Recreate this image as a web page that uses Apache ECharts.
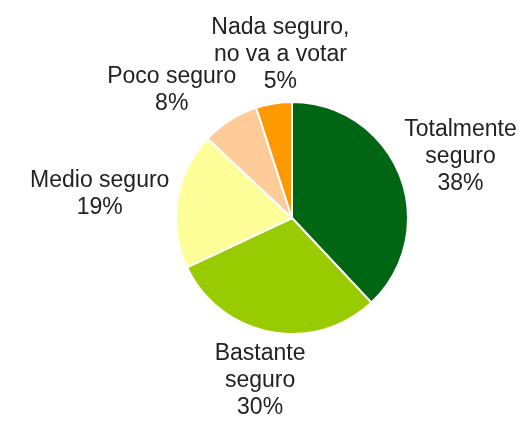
<!DOCTYPE html>
<html>
<head>
<meta charset="utf-8">
<script src="https://cdn.jsdelivr.net/npm/echarts@6/dist/echarts.min.js"></script>
<style>
  html, body { margin: 0; padding: 0; background: #fff; }
  #chart { width: 525px; height: 427px; }
</style>
</head>
<body>
<div id="chart"></div>
<script>
const categories = ['Totalmente\nseguro', 'Bastante\nseguro', 'Medio seguro', 'Poco seguro', 'Nada seguro,\nno va a votar'];
const values = [38, 30, 19, 8, 5];
const colors = ['#006613', '#99cc00', '#ffff99', '#ffcc99', '#ff9900'];

const center = [292, 218];
const radius = 116;
const gap = 9;           // space between pie edge and label box
const fontSize = 23;
const lineHeight = 27;
const fontFamily = 'Liberation Sans, Arial, sans-serif';

// measure label boxes so they can be placed outside the slices
const ctx = document.createElement('canvas').getContext('2d');
ctx.font = fontSize + 'px ' + fontFamily;
const labelText = categories.map((c, i) => c + '\n' + values[i] + '%');
const boxes = labelText.map(t => {
  const lines = t.split('\n');
  return {
    w: Math.max(...lines.map(l => ctx.measureText(l).width)),
    h: lines.length * lineHeight
  };
});

// label centres along the mid angle of each slice (clockwise from 12 o'clock);
// the box edge, not its centre, sits at radius + gap
const total = values.reduce((a, b) => a + b, 0);
let acc = 0;
const spots = values.map((v, i) => {
  const a = (acc + v / 2) / total * 2 * Math.PI;
  acc += v;
  const dx = Math.sin(a), dy = -Math.cos(a);
  return {
    x: center[0] + dx * (radius + gap) + dx * boxes[i].w / 2,
    y: center[1] + dy * (radius + gap) + dy * boxes[i].h / 2
  };
});
// push neighbouring labels apart sideways when they collide
for (let i = 0; i < spots.length - 1; i++) {
  const p = spots[i], q = spots[i + 1];
  const ox = (boxes[i].w + boxes[i + 1].w) / 2 - Math.abs(p.x - q.x);
  const oy = (boxes[i].h + boxes[i + 1].h) / 2 - Math.abs(p.y - q.y);
  if (ox > 0 && oy > 0) {
    const s = p.x < q.x ? -1 : 1;
    const push = ox * 0.3;
    p.x += s * push;
    q.x -= s * push;
  }
}

const chart = echarts.init(document.getElementById('chart'));

chart.setOption({
  animation: false,
  series: [{
    type: 'pie',
    center: center,
    radius: radius,
    startAngle: 90,
    clockwise: true,
    avoidLabelOverlap: false,
    emphasis: { disabled: true },
    itemStyle: {
      borderColor: '#fff',
      borderWidth: 2
    },
    label: {
      show: true,
      position: 'outside',
      formatter: '{b}\n{c}%',
      fontFamily: fontFamily,
      fontSize: fontSize,
      lineHeight: lineHeight,
      color: '#222',
      align: 'center'
    },
    labelLine: { show: false },
    labelLayout: function (params) {
      const s = spots[params.dataIndex];
      return { x: s.x, y: s.y, align: 'center', verticalAlign: 'middle' };
    },
    data: categories.map((c, i) => ({
      name: c,
      value: values[i],
      itemStyle: { color: colors[i] }
    }))
  }]
});
</script>
</body>
</html>
